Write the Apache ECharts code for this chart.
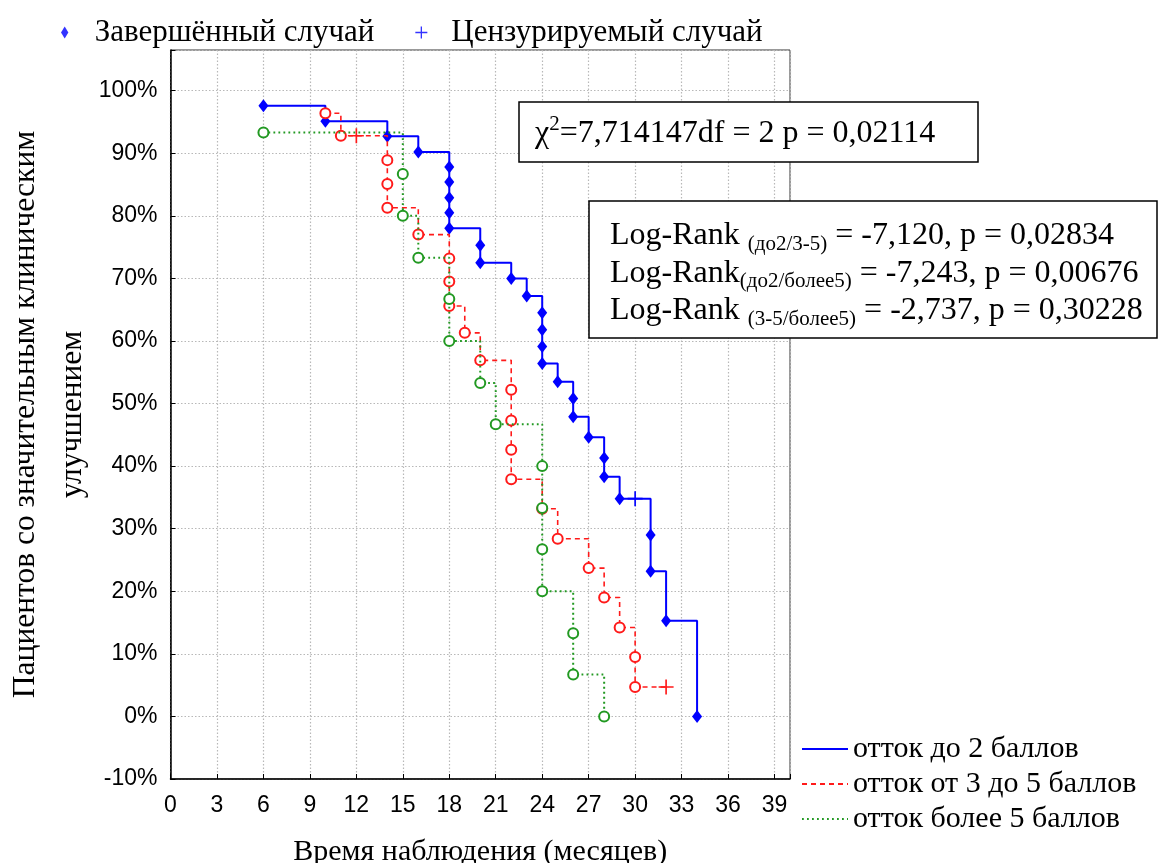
<!DOCTYPE html>
<html>
<head>
<meta charset="utf-8">
<script src="https://cdn.jsdelivr.net/npm/echarts@6/dist/echarts.min.js"></script>
<style>html,body{margin:0;padding:0;background:#fff}#c{width:1170px;height:863px}</style>
</head>
<body>
<div id="c"></div>
<script>
// ---- data (months, survival %, censored flag) ----
const monthsA = [6,10,14,16,18,18,18,18,18,20,20,22,23,24,24,24,24,25,26,26,27,28,28,29,30,31,31,32,34];
const survA   = [97.6,95.1,92.7,90.2,87.8,85.4,82.9,80.5,78.0,75.3,72.5,70.0,67.2,64.5,61.8,59.1,56.4,53.5,50.8,47.9,44.6,41.3,38.3,34.8,34.8,29.0,23.2,15.3,0];
const censA   = [0,0,0,0,0,0,0,0,0,0,0,0,0,0,0,0,0,0,0,0,0,0,0,0,1,0,0,0,0];

const monthsB = [10,11,12,14,14,14,16,18,18,18,19,20,22,22,22,22,24,25,27,28,29,30,30,32];
const survB   = [96.4,92.8,92.8,88.9,85.1,81.3,77.0,73.2,69.5,65.6,61.3,56.9,52.2,47.3,42.6,37.9,33.2,28.4,23.7,19.0,14.2,9.5,4.7,4.7];
const censB   = [0,0,1,0,0,0,0,0,0,0,0,0,0,0,0,0,0,0,0,0,0,0,0,1];

const monthsC = [6,15,15,16,18,18,20,21,24,24,24,24,26,26,28];
const survC   = [93.3,86.7,80.0,73.3,66.7,60.0,53.3,46.7,40.0,33.3,26.7,20.0,13.3,6.7,0];
const censC   = [0,0,0,0,0,0,0,0,0,0,0,0,0,0,0];

const seriesNames = ['отток до 2 баллов', 'отток от 3 до 5 баллов', 'отток более 5 баллов'];
const markNames = ['Завершённый случай', 'Цензурируемый случай'];
const xTicks = {min: 0, max: 40, step: 3};
const yTicks = {min: -10, max: 106.5, step: 10};

const PLUS = 'path://M8.9,0H11.1V8.9H20V11.1H11.1V20H8.9V11.1H0V8.9H8.9Z';
const DIAMOND = 'path://M4,0L8,6.5L4,13L0,6.5Z';
const SERIF = '"Liberation Serif", "Times New Roman", serif';
const SANS = '"Liberation Sans", Arial, sans-serif';

function build(times, surv, cens, color) {
  return times.map((t, i) => cens[i]
    ? {value: [t, surv[i]], symbol: PLUS, symbolSize: 15, itemStyle: {color: color, borderWidth: 0}}
    : [t, surv[i]]);
}

const chart = echarts.init(document.getElementById('c'), null, {renderer: 'canvas'});
chart.setOption({
  animation: false,
  backgroundColor: '#fff',
  grid: {left: 170.5, right: 380, top: 50, bottom: 84, show: true, borderColor: '#333', borderWidth: 1,
    backgroundColor: 'transparent', containLabel: false, outerBoundsMode: 'none'},
  title: [
    {
      text: '{t|χ}{sup|2}{t|=7,714147df = 2 p = 0,02114}',
      left: 519, top: 102,
      padding: [12, 43, 12, 16],
      backgroundColor: '#fff', borderColor: '#000', borderWidth: 1.5,
      textStyle: {
        fontWeight: 'normal',
        rich: {
          t: {fontFamily: SERIF, fontSize: 32, fontWeight: 'normal', color: '#000', lineHeight: 40},
          sup: {fontFamily: SERIF, fontSize: 21, fontWeight: 'normal', color: '#000', lineHeight: 8, verticalAlign: 'top'}
        }
      }
    },
    {
      text: '{t|Log-Rank }{s|(до2/3-5)}{t| = -7,120, p = 0,02834}\n' +
            '{t|Log-Rank}{s|(до2/более5)}{t| = -7,243, p = 0,00676}\n' +
            '{t|Log-Rank }{s|(3-5/более5)}{t| = -2,737, p = 0,30228}',
      left: 589, top: 198,
      padding: [19, 14, 9, 21],
      backgroundColor: '#fff', borderColor: '#000', borderWidth: 1.5,
      textStyle: {
        fontWeight: 'normal',
        rich: {
          t: {fontFamily: SERIF, fontSize: 32, fontWeight: 'normal', color: '#000', lineHeight: 37.5},
          s: {fontFamily: SERIF, fontSize: 21, fontWeight: 'normal', color: '#000', lineHeight: 21, verticalAlign: 'bottom'}
        }
      }
    }
  ],
  legend: [
    {
      data: [{name: markNames[0], icon: DIAMOND}, {name: markNames[1], icon: PLUS}],
      left: 56, top: 12, orient: 'horizontal',
      itemWidth: 50, itemHeight: 12, itemGap: 41,
      selectedMode: false,
      textStyle: {fontFamily: SERIF, fontSize: 31, color: '#000'}
    },
    {
      data: seriesNames,
      left: 796, top: 729, orient: 'vertical',
      itemWidth: 46, itemHeight: 14, itemGap: 5,
      selectedMode: false,
      itemStyle: {opacity: 0},
      textStyle: {fontFamily: SERIF, fontSize: 30, color: '#000', lineHeight: 30}
    }
  ],
  xAxis: {
    type: 'value', min: xTicks.min, max: xTicks.max, interval: xTicks.step,
    name: 'Время наблюдения (месяцев)', nameLocation: 'middle', nameGap: 58, nameMoveOverlap: false,
    nameTextStyle: {fontFamily: SERIF, fontSize: 30, color: '#000'},
    axisLine: {show: true, onZero: false, lineStyle: {color: '#000', width: 1.5}},
    axisTick: {show: true, inside: true, length: 5, lineStyle: {color: '#000'}},
    axisLabel: {margin: 15, fontFamily: SANS, fontSize: 23, color: '#000',
      formatter: v => (Math.abs(v % xTicks.step) < 1e-9 && v < xTicks.max ? String(v) : '')},
    splitLine: {show: true, lineStyle: {color: '#b8b8b8', type: [1.5, 2], width: 1.2}}
  },
  yAxis: {
    type: 'value', min: yTicks.min, max: yTicks.max, interval: yTicks.step,
    name: 'Пациентов со значительным клиническим\nулучшением', nameLocation: 'middle', nameGap: 74, nameMoveOverlap: false,
    nameTextStyle: {fontFamily: SERIF, fontSize: 31.5, color: '#000', lineHeight: 47},
    axisLine: {show: true, onZero: false, lineStyle: {color: '#000', width: 1.5}},
    axisTick: {show: true, inside: true, length: 5, lineStyle: {color: '#000'}},
    axisLabel: {margin: 13, fontFamily: SANS, fontSize: 23, color: '#000',
      formatter: v => (Math.abs(Math.round(v) - v) < 1e-9 && Math.round(v) % 10 === 0 ? v + '%' : '')},
    splitLine: {show: true, lineStyle: {color: '#b8b8b8', type: [1.5, 2], width: 1.2}}
  },
  series: [
    {
      name: seriesNames[0], type: 'line', step: 'end', z: 3,
      data: build(monthsA, survA, censA, '#0000ff'),
      symbol: 'diamond', symbolSize: [10, 13], showAllSymbol: true,
      itemStyle: {color: '#0000ff'},
      lineStyle: {color: '#0000ff', width: 2, type: 'solid'}
    },
    {
      name: seriesNames[1], type: 'line', step: 'end', z: 4,
      data: build(monthsB, survB, censB, '#ff1a1a'),
      symbol: 'emptyCircle', symbolSize: 10, showAllSymbol: true,
      itemStyle: {color: '#ff1a1a', borderWidth: 1.5},
      lineStyle: {color: '#ff1a1a', width: 1.6, type: [5, 4]}
    },
    {
      name: seriesNames[2], type: 'line', step: 'end', z: 5,
      data: build(monthsC, survC, censC, '#229922'),
      symbol: 'emptyCircle', symbolSize: 10, showAllSymbol: true,
      itemStyle: {color: '#229922', borderWidth: 1.5},
      lineStyle: {color: '#229922', width: 2, type: [1.8, 3.2]}
    },
    {name: markNames[0], type: 'scatter', data: [], itemStyle: {color: '#0000ff'}},
    {name: markNames[1], type: 'scatter', data: [], itemStyle: {color: '#0000ff'}}
  ]
});
</script>
</body>
</html>
